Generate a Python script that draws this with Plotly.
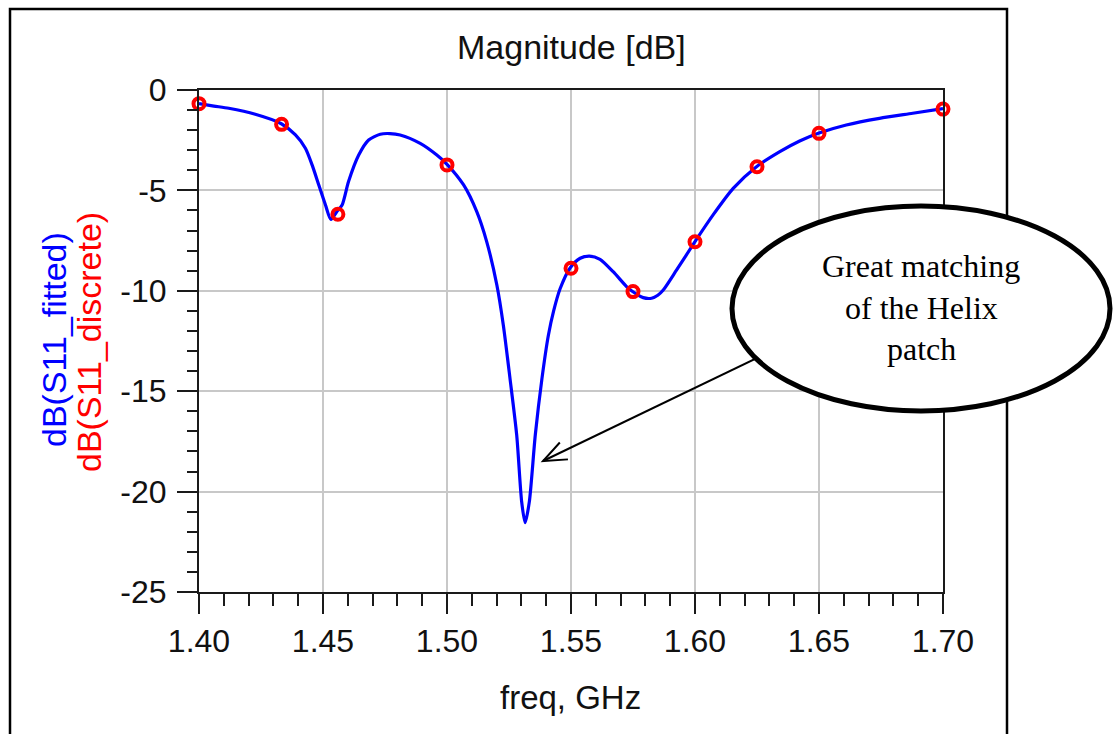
import numpy as np
import plotly.graph_objects as go

# Fitted S11 magnitude (dB) versus frequency (GHz)
freq_fit = [1.400, 1.406, 1.412, 1.4227, 1.4332, 1.4389, 1.4429, 1.4456, 1.4483,
            1.451, 1.4532, 1.4556, 1.4577, 1.4603, 1.4644, 1.4684, 1.4731, 1.477, 1.4811,
            1.4892, 1.4959, 1.500, 1.5067, 1.512, 1.516, 1.5201, 1.5227, 1.5254,
            1.5281, 1.5301, 1.5315, 1.5332, 1.5356, 1.5383, 1.5409, 1.5430, 1.5456,
            1.5497, 1.5537, 1.5574, 1.5617, 1.567, 1.5724, 1.5744, 1.5791, 1.5825,
            1.5850, 1.5872, 1.5926, 1.600, 1.6073, 1.6154, 1.6248, 1.6342, 1.6422, 1.650,
            1.661, 1.6744, 1.6878, 1.700]
s11_fit = [-0.68, -0.80, -0.91, -1.21, -1.68, -2.24, -2.90, -3.73, -4.73,
           -5.73, -6.45, -6.05, -5.73, -4.56, -3.24, -2.49, -2.20, -2.17, -2.24,
           -2.66, -3.24, -3.70, -4.73, -6.06, -7.55, -9.71, -11.70, -14.36,
           -17.18, -20.50, -21.55, -20.50, -17.18, -14.36, -12.20, -11.00, -9.90,
           -8.85, -8.38, -8.27, -8.43, -9.05, -9.79, -10.00, -10.34, -10.37,
           -10.22, -9.96, -8.96, -7.55, -6.22, -4.90, -3.82, -3.07, -2.54, -2.14,
           -1.74, -1.41, -1.16, -0.93]

# Discrete S11 samples
freq_disc = [1.400, 1.4333, 1.4560, 1.500, 1.550, 1.575, 1.600, 1.625, 1.650, 1.700]
s11_disc = [-0.68, -1.71, -6.19, -3.73, -8.88, -10.04, -7.56, -3.82, -2.16, -0.95]

x_ticks = [1.40, 1.45, 1.50, 1.55, 1.60, 1.65, 1.70]
x_tick_text = ["1.40", "1.45", "1.50", "1.55", "1.60", "1.65", "1.70"]
y_ticks = [0, -5, -10, -15, -20, -25]
y_tick_text = ["0", "-5", "-10", "-15", "-20", "-25"]

callout_lines = ["Great matching", "of the Helix", "patch"]

# Page geometry (pixels) for the plotting area
FIG_W, FIG_H = 1114, 734
L, T, W, H = 199, 90, 744, 502


def px(x):
    return (x - L) / W


def py(y):
    return (T + H - y) / H


SANS = "Liberation Sans, Arial, sans-serif"
SERIF = "Liberation Serif, Times New Roman, serif"
AX = "#1a1a1a"

fig = go.Figure()
fig.add_trace(go.Scatter(
    x=freq_fit, y=s11_fit, mode="lines",
    line=dict(color="#0000ff", width=3.2, shape="spline", smoothing=0.7),
    name="dB(S11_fitted)", cliponaxis=False))
fig.add_trace(go.Scatter(
    x=freq_disc, y=s11_disc, mode="markers",
    marker=dict(symbol="circle-open", size=11, color="#ff0000",
                line=dict(color="#ff0000", width=4)),
    name="dB(S11_discrete)", cliponaxis=False))

axis_common = dict(
    ticks="outside", ticklen=20, tickwidth=2, tickcolor=AX,
    showline=True, linecolor=AX, linewidth=2, mirror=True,
    showgrid=True, gridcolor="#c8c8c8", gridwidth=1.5, zeroline=False,
    tickfont=dict(family=SANS, size=32, color="#111111"),
)
fig.update_xaxes(range=[1.40, 1.70], tickmode="array", tickvals=x_ticks,
                 ticktext=x_tick_text,
                 minor=dict(tickmode="linear", tick0=1.40, dtick=0.01, ticks="outside",
                            ticklen=12, tickwidth=2, tickcolor=AX, showgrid=False),
                 **axis_common)
fig.update_yaxes(range=[-25, 0], tickmode="array", tickvals=y_ticks,
                 ticktext=y_tick_text, ticklabelstandoff=4,
                 minor=dict(tickmode="linear", tick0=0, dtick=1, ticks="outside",
                            ticklen=10, tickwidth=2, tickcolor=AX, showgrid=False),
                 **axis_common)

# Arrow from the callout bubble towards the deep resonance
tip = np.array([543.0, 461.0])
start = np.array([790.0, 342.0])
d = (start - tip) / np.linalg.norm(start - tip)
arms = []
for ang in (np.radians(22), np.radians(-22)):
    rot = np.array([[np.cos(ang), -np.sin(ang)], [np.sin(ang), np.cos(ang)]])
    arms.append(tip + 25 * rot @ d)
head_path = "M {} {} L {} {} L {} {}".format(
    px(arms[0][0]), py(arms[0][1]), px(tip[0]), py(tip[1]), px(arms[1][0]), py(arms[1][1]))

shapes = [
    # outer frame
    dict(type="path", xref="paper", yref="paper",
         path="M {} {} L {} {} L {} {} L {} {}".format(
             px(10), py(750), px(10), py(9), px(1007), py(9), px(1007), py(750)),
         line=dict(color="black", width=2.5)),
    dict(type="line", xref="paper", yref="paper",
         x0=px(start[0]), y0=py(start[1]), x1=px(tip[0]), y1=py(tip[1]),
         line=dict(color="black", width=2)),
    dict(type="path", xref="paper", yref="paper", path=head_path,
         line=dict(color="black", width=2)),
    # callout bubble
    dict(type="circle", xref="paper", yref="paper",
         x0=px(732), x1=px(1110), y0=py(411), y1=py(206),
         fillcolor="white", line=dict(color="black", width=5)),
]

annotations = [
    dict(text="Magnitude [dB]", x=px(571), y=py(47), xref="paper", yref="paper",
         showarrow=False, xanchor="center", yanchor="middle",
         font=dict(family=SANS, size=34, color="#111111")),
    dict(text="freq, GHz", x=px(570), y=py(697), xref="paper", yref="paper",
         showarrow=False, xanchor="center", yanchor="middle",
         font=dict(family=SANS, size=33, color="#111111")),
    dict(text="dB(S11_fitted)", x=px(54), y=py(340), xref="paper", yref="paper",
         showarrow=False, xanchor="center", yanchor="middle", textangle=-90,
         font=dict(family=SANS, size=34, color="#0000ff")),
    dict(text="dB(S11_discrete)", x=px(89), y=py(342), xref="paper", yref="paper",
         showarrow=False, xanchor="center", yanchor="middle", textangle=-90,
         font=dict(family=SANS, size=34, color="#ff0000")),
]
for i, line in enumerate(callout_lines):
    annotations.append(dict(
        text=line, x=px(921), y=py(266 + 41.5 * i), xref="paper", yref="paper",
        showarrow=False, xanchor="center", yanchor="middle",
        font=dict(family=SERIF, size=32, color="black")))

fig.update_layout(
    width=FIG_W, height=FIG_H,
    margin=dict(l=L, r=FIG_W - L - W, t=T, b=FIG_H - T - H),
    paper_bgcolor="white", plot_bgcolor="white", showlegend=False,
    shapes=shapes, annotations=annotations,
)

fig.write_html("out.html")
